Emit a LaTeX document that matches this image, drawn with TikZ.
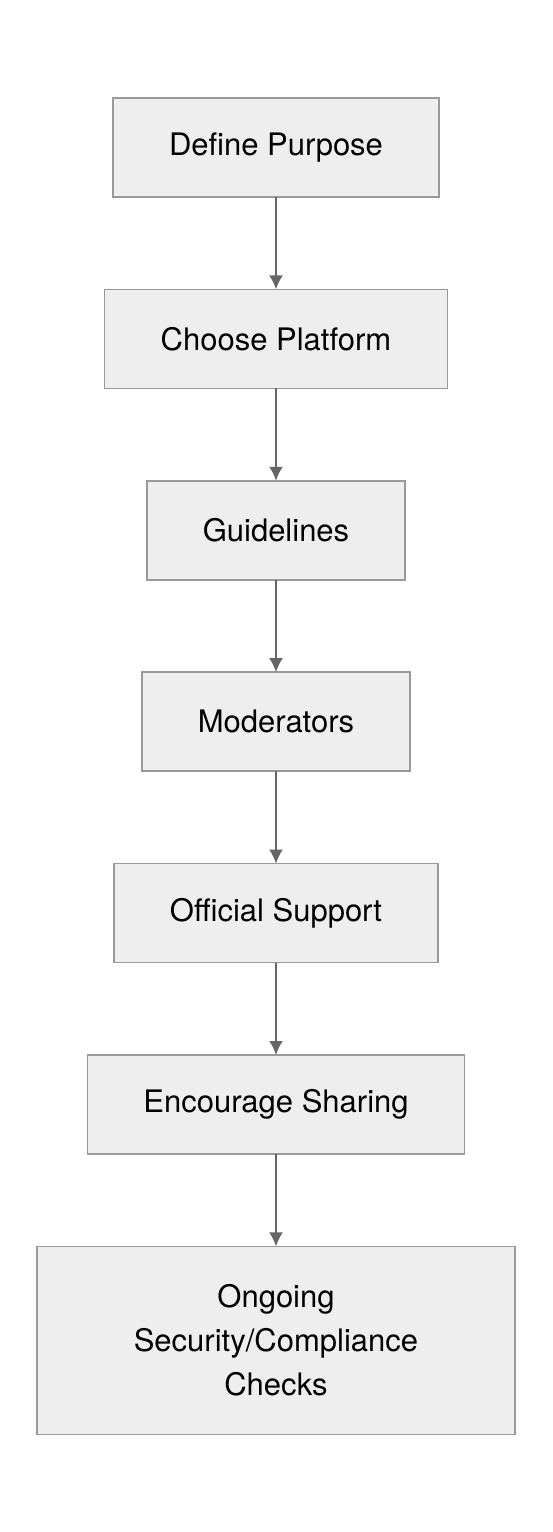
\documentclass[tikz,border=0pt]{standalone}
\usepackage{fontspec}
\setmainfont{TeX Gyre Heros}
\usepackage{tikz}
\usetikzlibrary{arrows.meta,positioning}
\definecolor{boxfill}{HTML}{EEEEEE}
\definecolor{boxline}{HTML}{999999}
\definecolor{flowline}{HTML}{666666}
\tikzstyle{stage}=[draw=boxline, fill=boxfill, line width=1.5pt, outer sep=0pt,
  inner xsep=56pt, minimum height=99pt, align=center,
  font=\fontsize{31}{44}\selectfont]
\tikzstyle{flow}=[draw=flowline, line width=2pt, -{Latex[length=14pt,width=14pt]}]

\begin{document}
\begin{tikzpicture}[node distance=92.4pt]
    \useasboundingbox (0,0) rectangle (552pt,-1532pt);

    % Steps
    \node[stage] (purpose) at (276pt,-147.5pt) {Define Purpose};
    \node[stage, below=of purpose] (platform) {Choose Platform};
    \node[stage, below=of platform] (guide) {Guidelines};
    \node[stage, below=of guide] (mods) {Moderators};
    \node[stage, below=of mods] (support) {Official Support};
    \node[stage, below=of support] (sharing) {Encourage Sharing};
    \node[stage, below=of sharing, minimum width=478pt, minimum height=188pt,
      text width=360pt] (checks) {Ongoing\\Security/Compliance\\Checks};

    % Flow
    \draw[flow] (purpose) -- (platform);
    \draw[flow] (platform) -- (guide);
    \draw[flow] (guide) -- (mods);
    \draw[flow] (mods) -- (support);
    \draw[flow] (support) -- (sharing);
    \draw[flow] (sharing) -- (checks);

\end{tikzpicture}
\end{document}
